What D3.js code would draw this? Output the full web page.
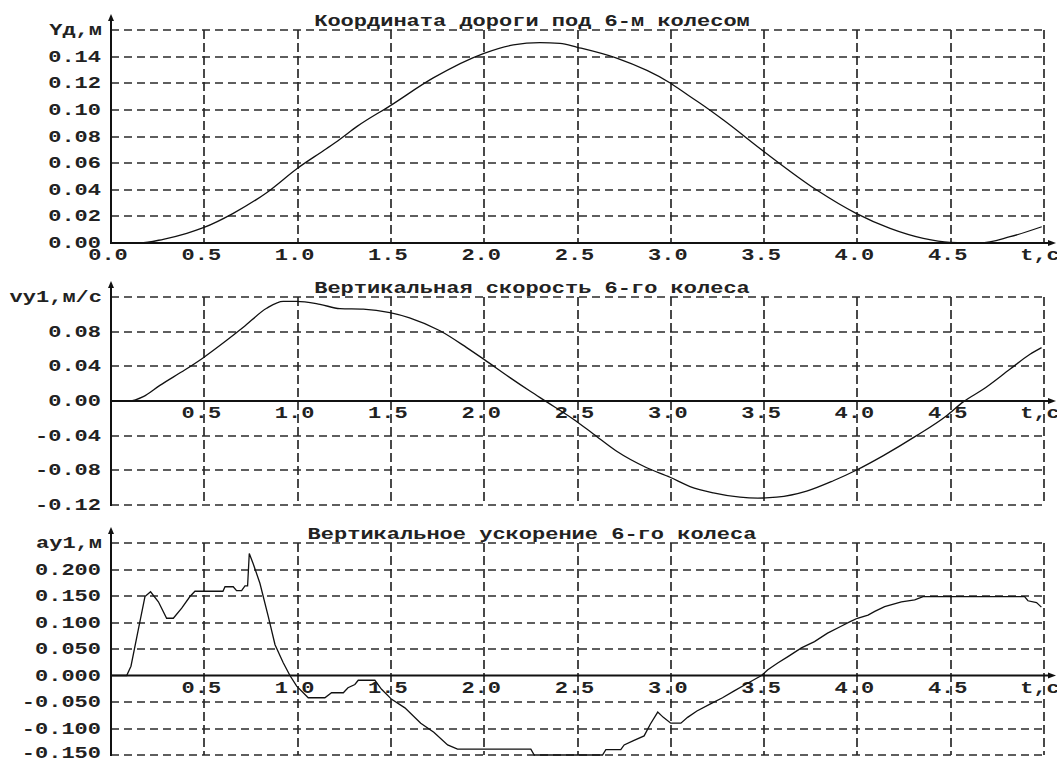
<!DOCTYPE html>
<html>
<head>
<meta charset="utf-8">
<script src="https://cdn.jsdelivr.net/npm/d3@7"></script>
<style>
  body { margin: 0; background: #fff; }
  text { font-family: 'Liberation Mono', 'DejaVu Sans Mono', monospace; font-weight: bold; font-size: 17px; fill: #222; }
</style>
</head>
<body>
<div id="chart"></div>
<script>
// road height under the 6th wheel, m
const roadTime = [0, 0.155, 0.28, 0.406, 0.495, 0.655, 0.834, 0.998, 1.156, 1.227, 1.317, 1.495, 1.727, 1.999, 2.156, 2.299, 2.406, 2.499, 2.71, 2.999, 3.103, 3.157, 3.282, 3.5, 3.782, 3.993, 4.175, 4.353, 4.496, 4.657, 4.818, 4.988];
const roadHeight = [0, 0, 0.0028, 0.0073, 0.0115, 0.0223, 0.0378, 0.056, 0.071, 0.078, 0.0874, 0.103, 0.124, 0.1425, 0.1488, 0.1505, 0.150, 0.147, 0.1388, 0.120, 0.110, 0.105, 0.0924, 0.0686, 0.0398, 0.0223, 0.011, 0.0035, 0.0005, 0, 0.0047, 0.0122];

// vertical velocity of the 6th wheel, m/s
const velTime = [0, 0.10, 0.173, 0.262, 0.397, 0.495, 0.62, 0.709, 0.834, 0.923, 0.995, 1.12, 1.227, 1.352, 1.495, 1.60, 1.763, 1.906, 1.999, 2.138, 2.245, 2.335, 2.478, 2.585, 2.71, 2.871, 2.996, 3.103, 3.228, 3.371, 3.467, 3.567, 3.728, 3.871, 3.996, 4.139, 4.317, 4.478, 4.567, 4.674, 4.817, 4.925, 4.987];
const wheelVel = [0, 0, 0.005, 0.018, 0.036, 0.050, 0.070, 0.085, 0.107, 0.115, 0.115, 0.1115, 0.1066, 0.106, 0.102, 0.096, 0.081, 0.0616, 0.048, 0.027, 0.0115, -0.001, -0.021, -0.038, -0.058, -0.077, -0.088, -0.0987, -0.106, -0.111, -0.112, -0.111, -0.104, -0.092, -0.0796, -0.063, -0.040, -0.017, -0.001, 0.0135, 0.0366, 0.054, 0.0616];

// vertical acceleration of the 6th wheel
const accTime = [0, 0.084, 0.107, 0.146, 0.182, 0.212, 0.254, 0.298, 0.334, 0.379, 0.423, 0.45, 0.60, 0.611, 0.655, 0.673, 0.70, 0.718, 0.732, 0.741, 0.762, 0.798, 0.843, 0.879, 0.923, 0.959, 0.995, 1.057, 1.146, 1.182, 1.245, 1.27, 1.307, 1.325, 1.414, 1.45, 1.504, 1.575, 1.66, 1.73, 1.804, 1.857, 2.25, 2.268, 2.634, 2.652, 2.732, 2.75, 2.80, 2.857, 2.89, 2.93, 2.96, 3.0, 3.054, 3.09, 3.14, 3.21, 3.277, 3.34, 3.40, 3.486, 3.52, 3.575, 3.63, 3.70, 3.77, 3.84, 3.91, 3.964, 4.0, 4.057, 4.093, 4.146, 4.236, 4.307, 4.352, 4.896, 4.914, 4.96, 4.986];
const wheelAcc = [0, 0, 0.0175, 0.086, 0.149, 0.158, 0.139, 0.108, 0.108, 0.127, 0.149, 0.159, 0.159, 0.1675, 0.1675, 0.16, 0.16, 0.169, 0.169, 0.23, 0.211, 0.174, 0.111, 0.058, 0.024, 0, -0.02, -0.042, -0.042, -0.0325, -0.0325, -0.023, -0.017, -0.009, -0.009, -0.026, -0.045, -0.061, -0.09, -0.107, -0.131, -0.139, -0.139, -0.15, -0.15, -0.14, -0.14, -0.131, -0.123, -0.114, -0.092, -0.069, -0.079, -0.09, -0.09, -0.079, -0.067, -0.054, -0.042, -0.029, -0.017, 0, 0.011, 0.024, 0.036, 0.052, 0.064, 0.08, 0.0925, 0.102, 0.108, 0.114, 0.121, 0.13, 0.139, 0.1425, 0.149, 0.149, 0.141, 0.1375, 0.129];

const timeTicks = [0.5, 1, 1.5, 2, 2.5, 3, 3.5, 4, 4.5];
const roadTicks = [0, 0.02, 0.04, 0.06, 0.08, 0.10, 0.12, 0.14];
const velTicks = [-0.12, -0.08, -0.04, 0, 0.04, 0.08];
const accTicks = [-0.15, -0.10, -0.05, 0, 0.05, 0.10, 0.15, 0.20];
const titles = ['Координата дороги под 6-м колесом', 'Вертикальная скорость 6-го колеса', 'Вертикальное ускорение 6-го колеса'];
const yNames = ['Yд,м', 'vy1,м/с', 'ay1,м'];
const timeName = 't,c';

const width = 1057;
const height = 760;
const marginLeft = 111;
const plotRight = 1044;
const charW = 13.2; // the old bitmap font is wide, so stretch glyphs

const x = d3.scaleLinear([0, 5], [marginLeft, plotRight]);

const panels = [
  { title: titles[0], yName: yNames[0], domain: [0, 0.16], range: [243, 30], ticks: roadTicks, fmt: d3.format('.2f'), t: roadTime, v: roadHeight, curve: d3.curveMonotoneX, zeroLabel: true },
  { title: titles[1], yName: yNames[1], domain: [-0.12, 0.12], range: [505, 297], ticks: velTicks, fmt: d3.format('.2f'), t: velTime, v: wheelVel, curve: d3.curveMonotoneX, zeroLabel: false },
  { title: titles[2], yName: yNames[2], domain: [-0.15, 0.25], range: [755, 543], ticks: accTicks, fmt: d3.format('.3f'), t: accTime, v: wheelAcc, curve: d3.curveLinear, zeroLabel: false },
];

const svg = d3.select('#chart')
  .append('svg')
  .attr('width', width)
  .attr('height', height)
  .attr('viewBox', [0, 0, width, height]);

function label(g, str, px, py, anchor) {
  g.append('text')
    .attr('x', px)
    .attr('y', py)
    .attr('text-anchor', anchor)
    .attr('textLength', str.length * charW)
    .attr('lengthAdjust', 'spacingAndGlyphs')
    .text(str);
}

panels.forEach((p) => {
  const y = d3.scaleLinear(p.domain, p.range);
  const g = svg.append('g');
  const top = p.range[1];
  const bottom = p.range[0];
  const y0 = y(0);

  // dashed grid
  const grid = g.append('g').attr('stroke', '#2a2a2a').attr('stroke-width', 1.7).attr('fill', 'none');
  const hLines = p.ticks.filter((d) => d !== 0).concat([p.domain[1]]);
  grid.selectAll('.h')
    .data(hLines)
    .join('line')
    .attr('class', 'h')
    .attr('x1', marginLeft)
    .attr('x2', plotRight)
    .attr('y1', (d) => Math.round(y(d)))
    .attr('y2', (d) => Math.round(y(d)))
    .attr('stroke-dasharray', '8,5');
  grid.selectAll('.v')
    .data(timeTicks.concat([5]))
    .join('line')
    .attr('class', 'v')
    .attr('x1', (d) => Math.round(x(d)))
    .attr('x2', (d) => Math.round(x(d)))
    .attr('y1', top)
    .attr('y2', bottom)
    .attr('stroke-dasharray', '9,4');

  // axes
  g.append('line')
    .attr('x1', marginLeft).attr('x2', marginLeft)
    .attr('y1', bottom + 1).attr('y2', top - 12)
    .attr('stroke', '#111').attr('stroke-width', 2);
  g.append('polygon')
    .attr('points', [[marginLeft - 3, top - 9], [marginLeft + 3, top - 9], [marginLeft, top - 16]].join(' '))
    .attr('fill', '#111');
  g.append('line')
    .attr('x1', marginLeft).attr('x2', 1050)
    .attr('y1', y0).attr('y2', y0)
    .attr('stroke', '#111').attr('stroke-width', 2);
  g.append('polygon')
    .attr('points', [[1048, y0 - 3], [1048, y0 + 3], [1056, y0]].join(' '))
    .attr('fill', '#111');

  // y tick labels
  p.ticks.forEach((d) => label(g, p.fmt(d).replace('\u2212', '-'), 101, Math.min(y(d) + 5, 758), 'end'));
  label(g, p.yName, 102, y(p.domain[1]) + 5, 'end');

  // x tick labels under the zero line
  const xl = p.zeroLabel ? [0].concat(timeTicks) : timeTicks;
  xl.forEach((d) => label(g, d.toFixed(1), x(d) - 3, y0 + 17, 'middle'));
  label(g, timeName, 1040, y0 + 17, 'middle');

  // title
  label(g, p.title, 532, top - 4, 'middle');

  // curve
  const pts = d3.zip(p.t, p.v);
  g.append('path')
    .datum(pts)
    .attr('fill', 'none')
    .attr('stroke', '#111')
    .attr('stroke-width', 1.3)
    .attr('d', d3.line().x((d) => x(d[0])).y((d) => y(d[1])).curve(p.curve));
});
</script>
</body>
</html>
